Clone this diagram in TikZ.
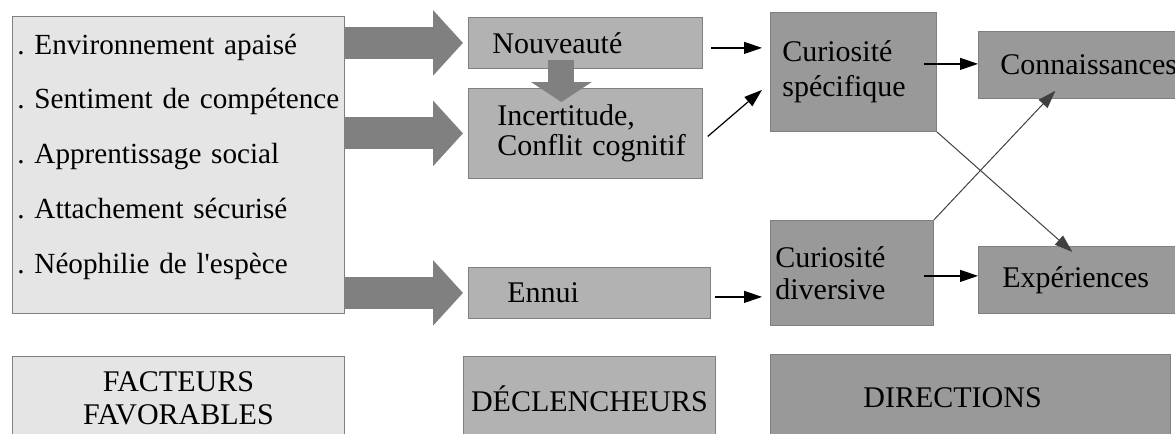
\documentclass[tikz,border=0pt]{standalone}
\usepackage{fontspec}
\setmainfont{Liberation Serif}
\frenchspacing
\usetikzlibrary{arrows.meta,calc}
\tikzset{%
  panel/.style     = {shape=rectangle, draw=black!50, anchor=north west,%
                      inner ysep=0pt, align=left,%
                      font=\fontsize{15}{15}\selectfont},%
  facbox/.style    = {panel, fill=black!10},%
  decbox/.style    = {panel, fill=black!30},%
  dirbox/.style    = {panel, fill=black!40},%
  bigarrow/.style  = {draw=black!50, line width=16pt,%
                      -{Triangle[length=15pt,width=32pt]}},%
  downarrow/.style = {draw=black!50, line width=13pt,%
                      -{Triangle[length=10pt,width=30pt]}},%
  thinlink/.style  = {line width=0.6pt, -{Triangle[length=9pt,width=6pt]}},%
  crossline/.style = {thinlink, draw=black!75, line width=0.5pt}%
}
\begin{document}
\begin{tikzpicture}[x=0.5pt, y=-0.5pt]
	\useasboundingbox (0,0) rectangle (1175,434);
	\clip (0,0) rectangle (1175,434);
	% facteurs
	\node[facbox, minimum width=166pt, minimum height=148.5pt, text width=161pt,
	      inner xsep=2.5pt, text depth=121pt, font=\fontsize{14.6}{27.4}\selectfont]
	      (fac) at (12,16) {. Environnement apaisé\\
	      \mbox{. Sentiment de compétence}\\
	      . Apprentissage social\\
	      . Attachement sécurisé\\
	      . Néophilie de l\textquotesingle{}espèce};
	% declencheurs
	\node[decbox, minimum width=117pt, minimum height=25.5pt, text width=93pt,
	      inner xsep=12pt] (nouv) at (468,17) {Nouveauté};
	\node[decbox, minimum width=117pt, minimum height=45pt, text width=88pt,
	      inner xsep=14.5pt] (incert) at (468,88) {Incertitude,\\\mbox{Conflit cognitif}};
	\node[decbox, minimum width=121pt, minimum height=25.5pt, text width=82pt,
	      inner xsep=19.5pt] (ennui) at (468,267) {Ennui};
	% directions
	\node[dirbox, minimum width=83pt, minimum height=59.5pt, text width=71pt,
	      inner xsep=6pt, font=\fontsize{15}{17.5}\selectfont]
	      (cspec) at (770,12) {Curiosité\\spécifique};
	\node[dirbox, minimum width=81.5pt, minimum height=52.5pt, text width=76.5pt,
	      inner xsep=2.5pt, font=\fontsize{15}{16}\selectfont]
	      (cdiv) at (770,220) {Curiosité\\diversive};
	\node[dirbox, minimum width=120pt, minimum height=33.5pt, text width=98pt,
	      inner xsep=11pt] (conn) at (978,31) {Connaissances};
	\node[dirbox, minimum width=120pt, minimum height=33.5pt, text width=96pt,
	      inner xsep=12pt] (exper) at (978,246) {Expériences};
	% legende
	\node[facbox, align=center, minimum width=166pt, minimum height=42pt,
	      font=\fontsize{15}{16.5}\selectfont] (facteurs) at (12,356) {FACTEURS\\FAVORABLES};
	\node[decbox, align=center, minimum width=126pt, minimum height=42pt]
	      (declen) at (463,356) {DÉCLENCHEURS};
	\node[dirbox, minimum width=200pt, minimum height=43pt, text width=107pt,
	      inner xsep=46.5pt] (direct) at (770,354) {DIRECTIONS};
	% fleches
	\draw[bigarrow] (fac.east |- nouv.west) -- ([xshift=-2.5pt]nouv.west);
	\draw[bigarrow] (fac.east |- incert.west) -- ([xshift=-2.5pt]incert.west);
	\draw[bigarrow] (fac.east |- ennui.west) -- ([xshift=-2.5pt]ennui.west);
	\draw[downarrow] ($(nouv.south)+(-24,-9)$) -- ($(incert.north)+(-24,14)$);
	\draw[thinlink] ($(nouv.east)+(8,5)$) -- ($(nouv.east -| cspec.west)+(-8,5)$);
	\draw[thinlink] ($(incert.east)+(5,3)$) -- ($(cspec.west)+(-8,18)$);
	\draw[thinlink] ($(ennui.east)+(4,4)$) -- ($(ennui.east -| cdiv.west)+(-8,4)$);
	\draw[thinlink] ($(cspec.east |- conn.west)+(-13,-1)$) -- ($(conn.west)+(0,-1)$);
	\draw[thinlink] ($(cdiv.east |- exper.west)+(-10,-4)$) -- ($(exper.west)+(0,-4)$);
	\draw[crossline] (cspec.south east) -- ($(exper.north)+(-26,6)$);
	\draw[crossline] (cdiv.north east) -- ($(conn.south)+(-43,-8)$);
\end{tikzpicture}
\end{document}
